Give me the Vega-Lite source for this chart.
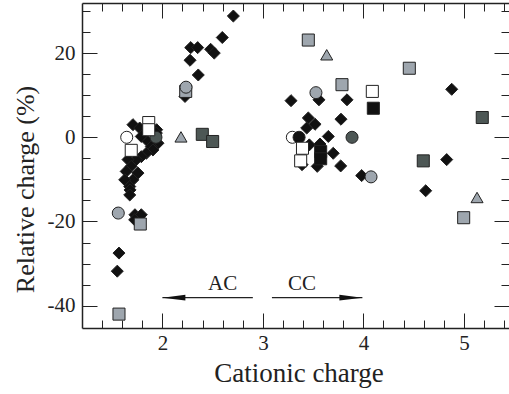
{
  "$schema": "https://vega.github.io/schema/vega-lite/v6.json",
  "width": 427,
  "height": 325,
  "autosize": "none",
  "padding": {"left": 82, "top": 3, "right": 0, "bottom": 66},
  "background": "white",
  "config": {
    "view": {"stroke": null},
    "font": "Liberation Serif",
    "axis": {"labelFont": "Liberation Serif", "titleFont": "Liberation Serif", "labelColor": "#222", "titleColor": "#222", "tickColor": "#222", "domainColor": "#222", "grid": false, "titleFontWeight": "normal", "labelFontWeight": "normal"}
  },
  "datasets": {
    "pts": [
      {"x": 2.706, "y": 28.8, "series": "D"},
      {"x": 2.596, "y": 23.7, "series": "D"},
      {"x": 2.282, "y": 21.3, "series": "D"},
      {"x": 2.351, "y": 21.3, "series": "D"},
      {"x": 2.48, "y": 20.9, "series": "D"},
      {"x": 2.516, "y": 20.0, "series": "D"},
      {"x": 2.275, "y": 18.3, "series": "D"},
      {"x": 2.357, "y": 14.8, "series": "D"},
      {"x": 2.225, "y": 9.7, "series": "D"},
      {"x": 1.707, "y": 3.0, "series": "D"},
      {"x": 1.774, "y": 2.2, "series": "D"},
      {"x": 1.943, "y": 1.8, "series": "D"},
      {"x": 1.79, "y": 0.2, "series": "D"},
      {"x": 1.94, "y": 1.0, "series": "D"},
      {"x": 1.857, "y": -1.0, "series": "D"},
      {"x": 1.956, "y": -1.4, "series": "D"},
      {"x": 1.89, "y": -2.2, "series": "D"},
      {"x": 1.906, "y": -3.0, "series": "D"},
      {"x": 1.84, "y": -3.8, "series": "D"},
      {"x": 1.79, "y": -4.6, "series": "D"},
      {"x": 1.74, "y": -5.3, "series": "D"},
      {"x": 1.658, "y": -5.3, "series": "D"},
      {"x": 1.69, "y": -6.9, "series": "D"},
      {"x": 1.64, "y": -8.1, "series": "D"},
      {"x": 1.757, "y": -8.5, "series": "D"},
      {"x": 1.707, "y": -10.1, "series": "D"},
      {"x": 1.625, "y": -10.1, "series": "D"},
      {"x": 1.675, "y": -11.7, "series": "D"},
      {"x": 1.678, "y": -12.5, "series": "D"},
      {"x": 1.675, "y": -13.7, "series": "D"},
      {"x": 1.727, "y": -18.4, "series": "D"},
      {"x": 1.79, "y": -18.4, "series": "D"},
      {"x": 1.724, "y": -19.6, "series": "D"},
      {"x": 1.568, "y": -27.5, "series": "D"},
      {"x": 1.551, "y": -31.8, "series": "D"},
      {"x": 4.879, "y": 11.4, "series": "D"},
      {"x": 3.28, "y": 8.7, "series": "D"},
      {"x": 3.558, "y": 8.9, "series": "D"},
      {"x": 3.837, "y": 8.9, "series": "D"},
      {"x": 3.452, "y": 4.6, "series": "D"},
      {"x": 3.519, "y": 3.1, "series": "D"},
      {"x": 3.436, "y": 2.2, "series": "D"},
      {"x": 3.777, "y": 4.3, "series": "D"},
      {"x": 3.651, "y": 0.2, "series": "D"},
      {"x": 3.462, "y": -1.8, "series": "D"},
      {"x": 3.568, "y": -1.6, "series": "D"},
      {"x": 3.70, "y": -3.8, "series": "D"},
      {"x": 3.39, "y": -6.5, "series": "D"},
      {"x": 3.541, "y": -6.9, "series": "D"},
      {"x": 3.774, "y": -6.8, "series": "D"},
      {"x": 4.829, "y": -5.3, "series": "D"},
      {"x": 3.983, "y": -9.1, "series": "D"},
      {"x": 4.62, "y": -12.7, "series": "D"},
      {"x": 2.232, "y": 10.9, "series": "Sl"},
      {"x": 2.235, "y": 11.9, "series": "Ol"},
      {"x": 1.645, "y": 0.0, "series": "Ow"},
      {"x": 1.936, "y": 0.0, "series": "Od"},
      {"x": 2.185, "y": 0.1, "series": "Tl"},
      {"x": 2.397, "y": 0.7, "series": "Sd"},
      {"x": 2.50, "y": -1.0, "series": "Sd"},
      {"x": 1.864, "y": 3.5, "series": "Sw"},
      {"x": 1.864, "y": 1.8, "series": "Sw"},
      {"x": 1.69, "y": -3.1, "series": "Sw"},
      {"x": 1.561, "y": -18.0, "series": "Ol"},
      {"x": 1.78, "y": -20.6, "series": "Sl"},
      {"x": 1.568, "y": -42.0, "series": "Sl"},
      {"x": 3.452, "y": 23.1, "series": "Sl"},
      {"x": 3.635, "y": 19.6, "series": "Tl"},
      {"x": 4.457, "y": 16.4, "series": "Sl"},
      {"x": 3.787, "y": 12.5, "series": "Sl"},
      {"x": 3.528, "y": 10.6, "series": "Ol"},
      {"x": 4.089, "y": 10.9, "series": "Sw"},
      {"x": 4.099, "y": 6.9, "series": "Sb"},
      {"x": 5.183, "y": 4.7, "series": "Sd"},
      {"x": 3.293, "y": 0.0, "series": "Ow"},
      {"x": 3.36, "y": 0.0, "series": "Ob"},
      {"x": 3.887, "y": 0.0, "series": "Od"},
      {"x": 3.394, "y": -2.6, "series": "Sw"},
      {"x": 3.575, "y": -3.4, "series": "Sb"},
      {"x": 3.575, "y": -5.1, "series": "Sb"},
      {"x": 3.376, "y": -5.6, "series": "Sw"},
      {"x": 4.596, "y": -5.6, "series": "Sd"},
      {"x": 4.076, "y": -9.4, "series": "Ol"},
      {"x": 5.131, "y": -14.3, "series": "Tl"},
      {"x": 4.998, "y": -19.1, "series": "Sl"}
    ],
    "arrows": [
      {"label": "AC", "from": 2.9, "to": 2.0, "y": -38.1, "textX": 2.6, "textY": -36.3},
      {"label": "CC", "from": 3.09, "to": 3.99, "y": -38.1, "textX": 3.39, "textY": -36.3}
    ]
  },
  "resolve": {"axis": {"x": "independent", "y": "independent"}},
  "layer": [
    {
      "mark": {"type": "rule", "color": "#555", "strokeWidth": 1.5},
      "encoding": {
        "y": {"datum": 0, "type": "quantitative", "scale": {"domain": [-45.3, 31.9], "nice": false, "zero": false},
              "axis": {"orient": "right", "values": [-40, -20, 0, 20], "tickSize": -15, "tickWidth": 1, "labels": false, "domain": false, "title": null}}
      }
    },
    {
      "mark": {"type": "rule", "color": "#333", "strokeWidth": 1.5, "strokeDash": [1.5, 1.5]},
      "encoding": {
        "x": {"datum": 3, "type": "quantitative", "scale": {"domain": [1.2, 5.449], "nice": false, "zero": false},
              "axis": {"orient": "top", "values": [2, 3, 4, 5], "tickSize": -15, "tickWidth": 1, "labels": false, "domain": false, "title": null}}
      }
    },
    {
      "data": {"name": "pts"},
      "mark": {"type": "point", "filled": true, "size": 145, "stroke": "#222", "strokeWidth": 1, "opacity": 1},
      "encoding": {
        "x": {"field": "x", "type": "quantitative", "scale": {"domain": [1.2, 5.449], "nice": false, "zero": false},
              "axis": {"orient": "bottom", "values": [2, 3, 4, 5], "ticks": false, "domain": true, "domainWidth": 1.5, "labelPadding": 21.7, "labelBaseline": "alphabetic", "labelFontSize": 21, "labelOverlap": false,
                       "title": "Cationic charge", "titleFontSize": 27, "titleX": 216.5, "titleY": 53.4, "titleBaseline": "alphabetic", "titleAlign": "center"}},
        "y": {"field": "y", "type": "quantitative", "scale": {"domain": [-45.3, 31.9], "nice": false, "zero": false},
              "axis": {"orient": "left", "values": [-40, -20, 0, 20], "ticks": false, "domain": true, "domainWidth": 1.5, "labelPadding": 7, "labelFontSize": 21, "labelOverlap": false, "labelExpr": "'' + datum.value",
                       "title": "Relative charge (%)", "titleFontSize": 26, "titleX": -49, "titleY": 186, "titleAngle": -90, "titleBaseline": "alphabetic", "titleAlign": "center"}},
        "shape": {"field": "series", "type": "nominal", "legend": null,
                  "scale": {"domain": ["D", "Ow", "Ol", "Od", "Ob", "Sw", "Sl", "Sd", "Sb", "Tl"],
                            "range": ["diamond", "circle", "circle", "circle", "circle", "square", "square", "square", "square", "triangle-up"]}},
        "fill": {"field": "series", "type": "nominal", "legend": null,
                 "scale": {"domain": ["D", "Ow", "Ol", "Od", "Ob", "Sw", "Sl", "Sd", "Sb", "Tl"],
                           "range": ["#111111", "#ffffff", "#9ea6ae", "#4d5755", "#111111", "#ffffff", "#9ea6ae", "#4d5755", "#111111", "#9ea6ae"]}}
      }
    },
    {
      "data": {"name": "arrows"},
      "mark": {"type": "rule", "color": "#222", "strokeWidth": 1.3},
      "encoding": {
        "x": {"field": "from", "type": "quantitative", "scale": {"domain": [1.2, 5.449], "nice": false, "zero": false},
              "axis": {"orient": "bottom", "values": [1.4, 1.6, 1.8, 2.2, 2.4, 2.6, 2.8, 3.2, 3.4, 3.6, 3.8, 4.2, 4.4, 4.6, 4.8, 5.2, 5.4], "tickSize": -8, "tickWidth": 1, "labels": false, "domain": false, "title": null}},
        "x2": {"field": "to"},
        "y": {"field": "y", "type": "quantitative", "scale": {"domain": [-45.3, 31.9], "nice": false, "zero": false},
              "axis": {"orient": "left", "values": [-35, -30, -25, -15, -10, -5, 5, 10, 15, 25, 30], "tickSize": -8, "tickWidth": 1, "labels": false, "domain": false, "title": null}}
      }
    },
    {
      "data": {"name": "arrows"},
      "transform": [{"filter": "datum.label == 'AC'"}],
      "mark": {"type": "point", "shape": "M0,0L2,-0.25L2,0.25Z", "filled": true, "color": "#111", "size": 529, "opacity": 1},
      "encoding": {
        "x": {"field": "to", "type": "quantitative", "scale": {"domain": [1.2, 5.449], "nice": false, "zero": false},
              "axis": {"orient": "bottom", "values": [2, 3, 4, 5], "tickSize": -15, "tickWidth": 1, "labels": false, "domain": false, "title": null}},
        "y": {"field": "y", "type": "quantitative", "scale": {"domain": [-45.3, 31.9], "nice": false, "zero": false},
              "axis": {"orient": "left", "values": [-40, -20, 0, 20], "tickSize": -15, "tickWidth": 1, "labels": false, "domain": false, "title": null}}
      }
    },
    {
      "data": {"name": "arrows"},
      "transform": [{"filter": "datum.label == 'CC'"}],
      "mark": {"type": "point", "shape": "M0,0L-2,-0.25L-2,0.25Z", "filled": true, "color": "#111", "size": 529, "opacity": 1},
      "encoding": {
        "x": {"field": "to", "type": "quantitative", "scale": {"domain": [1.2, 5.449], "nice": false, "zero": false},
              "axis": {"orient": "top", "values": [1.4, 1.6, 1.8, 2.2, 2.4, 2.6, 2.8, 3.2, 3.4, 3.6, 3.8, 4.2, 4.4, 4.6, 4.8, 5.2, 5.4], "tickSize": -8, "tickWidth": 1, "labels": false, "domain": true, "domainWidth": 1.5, "title": null}},
        "y": {"field": "y", "type": "quantitative", "scale": {"domain": [-45.3, 31.9], "nice": false, "zero": false},
              "axis": {"orient": "right", "values": [-35, -30, -25, -15, -10, -5, 5, 10, 15, 25, 30], "tickSize": -8, "tickWidth": 1, "labels": false, "domain": false, "title": null}}
      }
    },
    {
      "data": {"name": "arrows"},
      "mark": {"type": "text", "font": "Liberation Serif", "fontSize": 21, "baseline": "alphabetic", "align": "center", "color": "#222"},
      "encoding": {
        "x": {"field": "textX", "type": "quantitative", "scale": {"domain": [1.2, 5.449], "nice": false, "zero": false}, "axis": null},
        "y": {"field": "textY", "type": "quantitative", "scale": {"domain": [-45.3, 31.9], "nice": false, "zero": false}, "axis": null},
        "text": {"field": "label"}
      }
    }
  ]
}
